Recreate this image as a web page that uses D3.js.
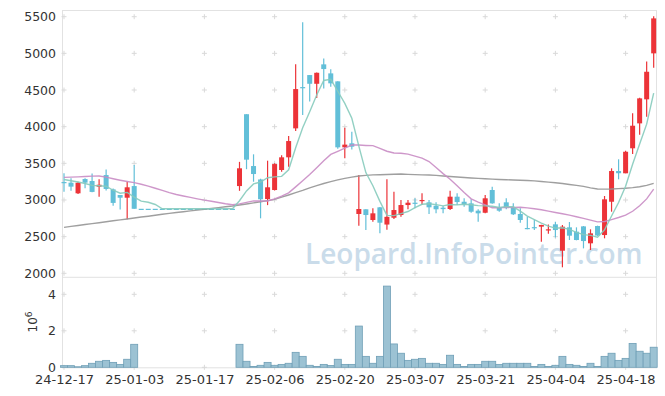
<!DOCTYPE html>
<html><head><meta charset="utf-8">
<script src="https://cdn.jsdelivr.net/npm/d3@7"></script>
<style>body{margin:0;background:#fff}svg{display:block;font-family:"DejaVu Sans",sans-serif}</style>
</head><body><svg id="c" width="665" height="396"></svg>
<script>
const dates=["24-12-17","24-12-18","24-12-19","24-12-20","24-12-23","24-12-24","24-12-26","24-12-27","24-12-30","25-01-02","25-01-03","25-01-06","25-01-07","25-01-08","25-01-09","25-01-10","25-01-13","25-01-14","25-01-15","25-01-16","25-01-17","25-01-20","25-01-21","25-01-22","25-01-23","25-01-24","25-01-31","25-02-03","25-02-04","25-02-05","25-02-06","25-02-07","25-02-10","25-02-11","25-02-12","25-02-13","25-02-14","25-02-17","25-02-18","25-02-19","25-02-20","25-02-21","25-02-24","25-02-25","25-02-26","25-02-27","25-02-28","25-03-04","25-03-05","25-03-06","25-03-07","25-03-10","25-03-11","25-03-12","25-03-13","25-03-14","25-03-17","25-03-18","25-03-19","25-03-20","25-03-21","25-03-24","25-03-25","25-03-26","25-03-27","25-03-28","25-03-31","25-04-01","25-04-02","25-04-03","25-04-04","25-04-07","25-04-08","25-04-09","25-04-10","25-04-11","25-04-14","25-04-15","25-04-16","25-04-17","25-04-18","25-04-21","25-04-22","25-04-23","25-04-24"];
const opens=[3245,3236,3091,3286,3259,3181,3340,3145,3068,3031,3190,2880,2880,2880,2880,2880,2880,2880,2880,2880,2880,2880,2880,2880,2880,3190,4170,3463,3280,3013,3136,3409,3582,3977,4540,4704,4585,4850,4727,4618,3718,3773,2809,2873,2727,2900,2665,2758,2795,2931,2963,2995,2968,2922,2895,2877,3045,2976,2954,2854,2826,3136,2900,2968,2900,2809,2618,2630,2636,2590,2668,2308,2627,2568,2640,2409,2645,2522,2976,3395,3364,3705,4045,4373,5000];
const highs=[3364,3295,3250,3295,3360,3282,3415,3155,3068,3250,3477,2880,2880,2880,2880,2880,2880,2880,2880,2880,2880,2880,2880,2880,2880,3520,4170,3623,3290,3536,3500,3610,3872,4852,5423,4704,4740,4930,4782,4620,3985,3931,3340,2873,2886,2905,3282,3113,3000,3000,3025,3091,3000,2968,2918,3127,3091,3023,3009,2873,3068,3181,2954,3023,2954,2886,2772,2730,2662,2665,2704,2659,2700,2627,2645,2600,2650,3054,3432,3555,3670,4182,4395,4890,5505];
const lows=[3113,3126,3082,3160,3105,3045,3130,2920,2870,2736,2880,2880,2880,2880,2880,2880,2880,2880,2880,2880,2880,2880,2880,2880,2880,3125,3420,3249,2750,2930,3130,3386,3455,3940,4160,4345,4390,4520,4545,3700,3568,3690,2650,2590,2704,2545,2595,2740,2772,2873,2886,2931,2810,2818,2820,2863,2931,2909,2826,2704,2818,2950,2840,2873,2795,2690,2600,2590,2430,2540,2490,2082,2454,2450,2340,2318,2510,2477,2840,3282,3364,3627,3890,4135,4805];
const closes=[3230,3182,3236,3236,3110,3208,3150,2960,3031,3173,2880,2880,2880,2880,2880,2880,2880,2880,2880,2880,2880,2880,2880,2880,2880,3432,3550,3354,3010,3173,3490,3582,3804,4513,4530,4585,4735,4786,4591,3718,3755,3727,2877,2795,2818,2690,2770,2863,2931,2963,2950,3000,2900,2873,2875,3045,2972,2941,2840,2818,3023,2954,2854,2900,2805,2727,2612,2620,2659,2600,2590,2636,2513,2454,2440,2545,2515,3009,3395,3365,3658,4013,4386,4749,5477];
const volumes=[90000,90000,30000,90000,220000,330000,380000,270000,160000,440000,1260000,0,0,0,0,0,0,0,0,0,0,0,0,0,0,1260000,330000,50000,110000,270000,110000,160000,220000,820000,600000,110000,50000,160000,100000,440000,160000,160000,2260000,600000,220000,600000,4450000,1280000,770000,380000,440000,490000,220000,220000,160000,660000,160000,50000,160000,160000,330000,330000,160000,220000,220000,220000,220000,50000,160000,50000,110000,600000,160000,110000,50000,220000,50000,600000,770000,380000,490000,1310000,880000,770000,1100000];
const ma5=[3280,3262,3245,3225,3199,3194,3188,3133,3092,3104,3039,2985,2969,2939,2880,2880,2880,2880,2880,2880,2880,2880,2880,2880,2880,2990,3124,3219,3245,3304,3315,3322,3412,3712,3984,4203,4433,4630,4645,4483,4317,4115,3734,3374,3194,2981,2790,2787,2814,2843,2895,2941,2949,2937,2920,2939,2933,2941,2935,2923,2919,2915,2898,2910,2907,2848,2780,2733,2685,2644,2616,2621,2600,2559,2527,2518,2493,2593,2781,2966,3188,3488,3763,4034,4457];
const ma20=[3309,3312,3315,3320,3326,3328,3312,3290,3270,3252,3236,3215,3190,3160,3130,3100,3075,3055,3035,3016,2998,2983,2965,2948,2936,2947,2967,2987,2986,2986,3016,3052,3098,3179,3262,3347,3440,3535,3621,3663,3706,3749,3749,3744,3741,3704,3665,3641,3637,3626,3599,3570,3525,3443,3360,3283,3195,3103,3015,2970,2934,2895,2894,2899,2898,2900,2892,2880,2867,2848,2830,2812,2793,2772,2750,2725,2702,2706,2733,2761,2793,2846,2922,3015,3148];
const maLong=[2627,2640,2652,2665,2678,2690,2703,2716,2729,2741,2754,2767,2779,2792,2805,2818,2829,2840,2851,2862,2873,2884,2896,2907,2918,2932,2946,2961,2976,2992,3009,3038,3068,3100,3130,3165,3195,3225,3250,3275,3295,3312,3327,3335,3342,3345,3348,3352,3354,3350,3346,3343,3340,3335,3328,3320,3313,3307,3300,3295,3290,3285,3280,3277,3273,3270,3265,3260,3252,3244,3236,3225,3212,3200,3185,3165,3150,3148,3150,3155,3160,3168,3180,3200,3227];
const priceTicks=[2000,2500,3000,3500,4000,4500,5000,5500];
const volTicks=[0,2000000,4000000];
const xTickLabels=["24-12-17","25-01-03","25-01-17","25-02-06","25-02-20","25-03-07","25-03-21","25-04-04","25-04-18"];

const svg=d3.select("#c");
const L=62,R=656,T=10,PB=277.3,VB=367.3;
const x=d3.scalePoint().domain(dates).range([64,64+84*7.02]);
const yP=d3.scaleLinear().domain([2000,5500]).range([273.3,16.7]);
const yV=d3.scaleLinear().domain([0,4000000]).range([VB,294.3]);
const RED="#ec3338",CYAN="#62bfd8";

// frame
svg.append("rect").attr("x",L+0.5).attr("y",T+0.5).attr("width",R-L).attr("height",VB-T).attr("fill","none").attr("stroke","#e2e2e2");
svg.append("line").attr("x1",L).attr("x2",R).attr("y1",PB).attr("y2",PB).attr("stroke","#e2e2e2");

// grid crosses
const cross=(cx,cy)=>{svg.append("path").attr("d",`M${cx-2.5},${cy}H${cx+2.5}M${cx},${cy-2.5}V${cy+2.5}`).attr("stroke","#d9d9d9").attr("stroke-width",1);};
xTickLabels.forEach(d=>{priceTicks.forEach(p=>cross(x(d),yP(p)));volTicks.slice(1).forEach(v=>cross(x(d),yV(v)));cross(x(d),VB);});

// watermark
svg.append("text").attr("x",305).attr("y",264)
  .attr("font-family","'Open Sans',sans-serif").attr("font-weight",600).attr("font-size",28).attr("fill","#cadcea").text("Leopard.InfoPointer.com");

// axes
const ax=svg.append("g").attr("transform",`translate(0,${VB})`).call(d3.axisBottom(x).tickValues(xTickLabels).tickSize(0).tickPadding(7));
ax.select(".domain").remove();
ax.selectAll("text").attr("font-size",13).attr("fill","#333").attr("font-family","DejaVu Sans");
const ay=svg.append("g").attr("transform",`translate(${L},0)`).call(d3.axisLeft(yP).tickValues(priceTicks).tickSize(0).tickPadding(6).tickFormat(d3.format("d")));
ay.select(".domain").remove();
ay.selectAll("text").attr("font-size",12.5).attr("fill","#333").attr("font-family","DejaVu Sans");
const av=svg.append("g").attr("transform",`translate(${L},0)`).call(d3.axisLeft(yV).tickValues(volTicks).tickSize(0).tickPadding(6).tickFormat(d=>d/1e6));
av.select(".domain").remove();
av.selectAll("text").attr("font-size",12.5).attr("fill","#333").attr("font-family","DejaVu Sans");
const vl=svg.append("text").attr("transform","translate(37,322) rotate(-90)").attr("text-anchor","middle").attr("font-size",12).attr("fill","#333");
vl.append("tspan").text("10");
vl.append("tspan").attr("font-size",9).attr("dy",-5).text("6");

// volume bars
const bwv=7.02;
svg.append("g").selectAll("rect").data(dates.filter((d,i)=>volumes[i]>0)).join("rect")
  .attr("x",d=>x(d)-bwv/2).attr("width",bwv)
  .attr("y",d=>yV(volumes[dates.indexOf(d)])).attr("height",d=>VB-yV(volumes[dates.indexOf(d)]))
  .attr("fill","#9cc2d3").attr("stroke","#6f9fb6").attr("stroke-width",0.8);

// candles
const bw=5;
const cg=svg.append("g");
cg.selectAll("line").data(dates).join("line")
  .attr("x1",d=>x(d)).attr("x2",d=>x(d))
  .attr("y1",(d,i)=>yP(highs[i])).attr("y2",(d,i)=>yP(lows[i]))
  .attr("stroke",(d,i)=>closes[i]>opens[i]?RED:CYAN).attr("stroke-width",1.2);
cg.selectAll("rect").data(dates).join("rect")
  .attr("x",d=>x(d)-bw/2).attr("width",bw)
  .attr("y",(d,i)=>yP(Math.max(opens[i],closes[i])))
  .attr("height",(d,i)=>Math.max(1.2,Math.abs(yP(opens[i])-yP(closes[i]))))
  .attr("fill",(d,i)=>closes[i]>opens[i]?RED:CYAN);

// moving averages
const mkLine=(arr,color)=>{svg.append("path").datum(dates).attr("fill","none").attr("stroke",color).attr("stroke-width",1.4).attr("stroke-opacity",0.9)
  .attr("d",d3.line().x(d=>x(d)).y((d,i)=>yP(arr[i])));};
mkLine(maLong,"#959595");
mkLine(ma20,"#c98cc4");
mkLine(ma5,"#86cbbd");
</script></body></html>
